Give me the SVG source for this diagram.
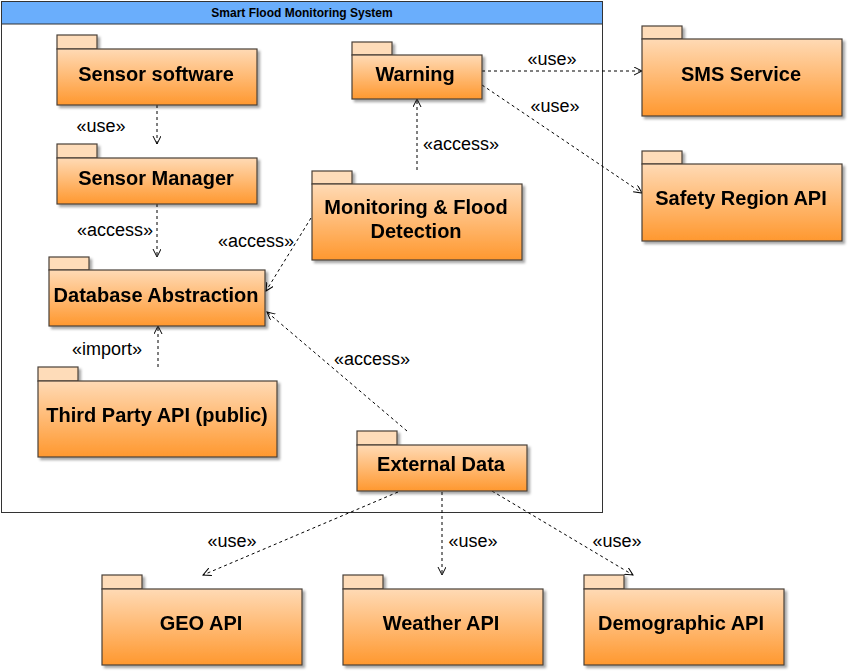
<svg xmlns="http://www.w3.org/2000/svg" width="848" height="672" viewBox="0 0 848 672">
<defs>
<linearGradient id="og" x1="0" y1="0" x2="0" y2="1">
<stop offset="0" stop-color="#ffdab5"/>
<stop offset="1" stop-color="#ff982f"/>
</linearGradient>
<filter id="sh" x="-10%" y="-10%" width="130%" height="140%">
<feDropShadow dx="2.5" dy="2.5" stdDeviation="1" flood-color="#000" flood-opacity="0.35"/>
</filter>
<marker id="ah" markerWidth="10" markerHeight="10" refX="8" refY="4" orient="auto" markerUnits="userSpaceOnUse">
<path d="M0,0 L8,4 L0,8" fill="none" stroke="#000" stroke-width="1"/>
</marker>
<style>
.tab{fill:#fedcb9;stroke:#4a4038;stroke-width:1.2}
.body{fill:url(#og);stroke:#4a4038;stroke-width:1.2}
.lbl{font-family:"Liberation Sans",Arial,sans-serif;font-weight:bold;font-size:20px;fill:#000;text-anchor:middle}
.st{font-family:"Liberation Sans",Arial,sans-serif;font-size:18px;fill:#000;text-anchor:middle}
.dep{fill:none;stroke:#000;stroke-width:1;stroke-dasharray:3,3;marker-end:url(#ah)}
</style>
</defs>
<rect x="0" y="0" width="848" height="672" fill="#fff"/>
<g id="frame">
<rect x="1.5" y="1.5" width="601" height="511" fill="#fff" stroke="#333" stroke-width="1"/>
<rect x="1.5" y="1.5" width="601" height="22.5" fill="#6aaefc" stroke="#333" stroke-width="1"/>
<text x="302" y="17" style="font-family:'Liberation Sans',Arial,sans-serif;font-weight:bold;font-size:12px" text-anchor="middle">Smart Flood Monitoring System</text>
</g>
<g id="connectors">
<path class="dep" d="M157,105 L157,144"/>
<path class="dep" d="M157,204 L157,257"/>
<path class="dep" d="M158,367 L158,326"/>
<path class="dep" d="M311,218 L266,291"/>
<path class="dep" d="M407,431 L267,312"/>
<path class="dep" d="M417,170 L417,99"/>
<path class="dep" d="M482,71 L642,71"/>
<path class="dep" d="M482,85 L642,193"/>
<path class="dep" d="M398,492 L203,575"/>
<path class="dep" d="M442,492 L442,575"/>
<path class="dep" d="M492,491 L633,575"/>
<text class="st" x="101" y="132">«use»</text>
<text class="st" x="115" y="236">«access»</text>
<text class="st" x="256" y="247">«access»</text>
<text class="st" x="107" y="355">«import»</text>
<text class="st" x="372" y="365">«access»</text>
<text class="st" x="461" y="150">«access»</text>
<text class="st" x="552" y="65">«use»</text>
<text class="st" x="555" y="112">«use»</text>
<text class="st" x="232" y="547">«use»</text>
<text class="st" x="473" y="547">«use»</text>
<text class="st" x="617" y="547">«use»</text>
</g>
<g id="sensor-software" filter="url(#sh)">
<rect class="tab" x="57" y="35" width="40" height="14"/>
<rect class="body" x="57" y="49" width="200" height="56"/>
<text class="lbl" x="156" y="81">Sensor software</text>
</g>
<g id="sensor-manager" filter="url(#sh)">
<rect class="tab" x="57" y="144" width="40" height="14"/>
<rect class="body" x="57" y="158" width="200" height="46"/>
<text class="lbl" x="156" y="185">Sensor Manager</text>
</g>
<g id="database-abstraction" filter="url(#sh)">
<rect class="tab" x="49" y="257" width="40" height="13"/>
<rect class="body" x="49" y="270" width="216" height="56"/>
<text class="lbl" x="156" y="302">Database Abstraction</text>
</g>
<g id="third-party-api" filter="url(#sh)">
<rect class="tab" x="38" y="367" width="40" height="14"/>
<rect class="body" x="38" y="381" width="239" height="76"/>
<text class="lbl" x="157" y="422">Third Party API (public)</text>
</g>
<g id="external-data" filter="url(#sh)">
<rect class="tab" x="357" y="431" width="40" height="14"/>
<rect class="body" x="357" y="445" width="170" height="46"/>
<text class="lbl" x="441" y="471">External Data</text>
</g>
<g id="monitoring" filter="url(#sh)">
<rect class="tab" x="312" y="171" width="40" height="13"/>
<rect class="body" x="312" y="184" width="210" height="76"/>
<text class="lbl" x="416" y="214">Monitoring &amp; Flood</text>
<text class="lbl" x="416" y="238">Detection</text>
</g>
<g id="warning" filter="url(#sh)">
<rect class="tab" x="352" y="42" width="40" height="13"/>
<rect class="body" x="352" y="55" width="130" height="44"/>
<text class="lbl" x="415" y="81">Warning</text>
</g>
<g id="sms-service" filter="url(#sh)">
<rect class="tab" x="642" y="26" width="40" height="13"/>
<rect class="body" x="642" y="39" width="200" height="77"/>
<text class="lbl" x="741" y="81">SMS Service</text>
</g>
<g id="safety-region-api" filter="url(#sh)">
<rect class="tab" x="642" y="151" width="40" height="13"/>
<rect class="body" x="642" y="164" width="200" height="77"/>
<text class="lbl" x="741" y="205">Safety Region API</text>
</g>
<g id="geo-api" filter="url(#sh)">
<rect class="tab" x="102" y="575" width="40" height="14"/>
<rect class="body" x="102" y="589" width="200" height="76"/>
<text class="lbl" x="201" y="630">GEO API</text>
</g>
<g id="weather-api" filter="url(#sh)">
<rect class="tab" x="343" y="575" width="40" height="14"/>
<rect class="body" x="343" y="589" width="200" height="76"/>
<text class="lbl" x="441" y="630">Weather API</text>
</g>
<g id="demographic-api" filter="url(#sh)">
<rect class="tab" x="584" y="575" width="40" height="14"/>
<rect class="body" x="584" y="589" width="200" height="76"/>
<text class="lbl" x="681" y="630">Demographic API</text>
</g>
</svg>
